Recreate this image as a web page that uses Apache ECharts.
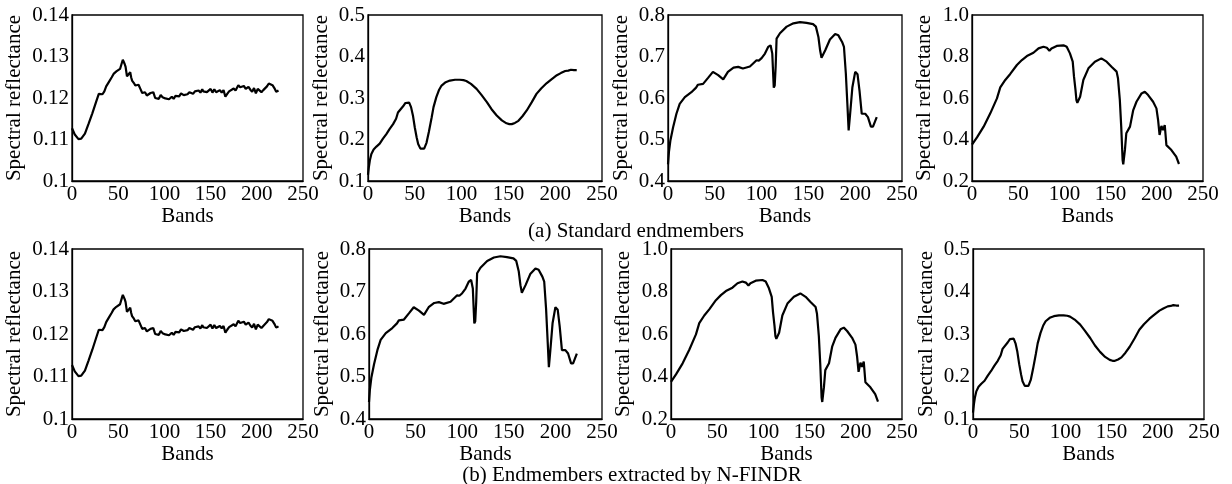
<!DOCTYPE html>
<html><head><meta charset="utf-8">
<script src="https://cdn.jsdelivr.net/npm/echarts@6/dist/echarts.min.js"></script>
<style>html,body{margin:0;padding:0;background:#fff}#c{width:1232px;height:484px}</style>
</head><body><div id="c"></div>
<script>
// ---- data (bands, reflectance) ----
const c1Bands = [0,3,7,10,14,18,22,26,29,31,33,35,37,40,43,45,48,50,52,54,55,56,57,58,59.5,61,63,64,65,67,68.5,70,72,74,76,78,79,81,83,85,87,88,90,92,94,96,98,101,103,105,106,108,110,112,114,116,118,119,121,123,125,127,129,131,133,135,137,139,141,142,144,146,148,150,152,154,156,158,160,162,164,166,168,170,172,175,177,180,182,184,186,188,191,193,195,197,199,201,203,205,207,209,211,213,215,217,219,221,223.5];
const c1Vals  = [0.1127,0.1112,0.1101,0.1102,0.1114,0.1138,0.1163,0.1190,0.1210,0.1213,0.1209,0.1216,0.1228,0.1239,0.1250,0.1258,0.1264,0.1268,0.1270,0.1285,0.1292,0.1290,0.1282,0.1275,0.1252,0.1256,0.1262,0.1250,0.1242,0.1236,0.1230,0.1234,0.1232,0.1222,0.1212,0.1216,0.1214,0.1206,0.1203,0.1212,0.1210,0.1214,0.1200,0.1204,0.1198,0.1207,0.1202,0.1199,0.1202,0.1197,0.1195,0.1203,0.1198,0.1205,0.1209,0.1204,0.1211,0.1213,0.1207,0.1210,0.1209,0.1214,0.1217,0.1210,0.1216,0.1212,0.1218,0.1213,0.1221,0.1216,0.1220,0.1214,0.1218,0.1222,0.1213,0.1221,0.1214,0.1211,0.1219,0.1213,0.1219,0.1203,0.1210,0.1216,0.1220,0.1223,0.1218,0.1231,0.1226,0.1224,0.1229,0.1222,0.1227,0.1220,0.1215,0.1224,0.1211,0.1222,0.1223,0.1214,0.1219,0.1215,0.1228,0.1235,0.1237,0.1231,0.1224,0.1215,0.1218,0.1217];

const c2Bands = [0,1,2,3.6,6,9,12.5,16,19.6,23,26.8,30,32,34,37.5,40,41.8,44,46,48,50,52,53.6,56,58,60,62.5,65,68,70,73,76,78.6,83,87.5,93,98,102,105,110,116,121,127,132,137.5,143,148,151,153.6,157,160.7,165,169.6,175,180,185,191,196,201.8,206,210.7,214,216.8,220,223];
const c2Vals  = [0.115,0.135,0.150,0.165,0.176,0.183,0.190,0.202,0.213,0.225,0.237,0.250,0.265,0.262,0.280,0.288,0.292,0.289,0.278,0.258,0.229,0.205,0.189,0.178,0.174,0.178,0.192,0.218,0.253,0.278,0.302,0.320,0.330,0.338,0.342,0.344,0.344,0.343,0.341,0.334,0.322,0.308,0.290,0.273,0.258,0.246,0.239,0.237,0.237,0.240,0.245,0.256,0.270,0.290,0.310,0.323,0.336,0.345,0.355,0.360,0.365,0.366,0.368,0.367,0.367];

const c3Bands = [0,1,2.5,5.4,9,12.5,18,25,30,32,34,37.5,43,48,53.6,59,64,70,75,80,87.5,94.6,97,100,103.6,107,109.6,111.4,112.5,113,114,115,116,119.6,126.8,134,141,148,155,158,160.7,162.5,164,166,168,173,178.6,182,186,188,190,191.8,193,194.6,197,200,202.5,204.6,207,210.7,213.6,216.8,219,223];
const c3Vals  = [0.440,0.470,0.497,0.529,0.562,0.586,0.602,0.614,0.625,0.632,0.628,0.634,0.649,0.663,0.655,0.645,0.663,0.673,0.675,0.671,0.676,0.691,0.690,0.696,0.707,0.723,0.727,0.707,0.650,0.625,0.630,0.675,0.743,0.756,0.772,0.780,0.783,0.781,0.778,0.772,0.747,0.715,0.697,0.700,0.715,0.741,0.754,0.751,0.735,0.723,0.659,0.578,0.522,0.562,0.626,0.663,0.657,0.618,0.562,0.562,0.554,0.531,0.531,0.554];

const c4Bands = [0,5.4,12.6,19.8,27,30.6,32.4,36,41.4,48.6,54,59.4,66.5,72,77.3,81,83.8,86,91.7,99,102.5,106,109,110.4,112,113,114,117,120.5,126,133,140,145.7,151,156.5,158,160,161.5,163,163.7,165.5,167,171,174.5,178,183.5,187,190.6,196,199.6,201.4,203,205,206.8,208.6,210.4,215.8,221,224];
const c4Vals  = [0.375,0.410,0.462,0.526,0.598,0.651,0.658,0.687,0.716,0.759,0.783,0.802,0.818,0.839,0.847,0.842,0.828,0.839,0.851,0.854,0.847,0.815,0.775,0.703,0.639,0.590,0.577,0.606,0.687,0.743,0.775,0.791,0.775,0.751,0.727,0.695,0.590,0.462,0.301,0.280,0.350,0.430,0.462,0.542,0.582,0.622,0.630,0.614,0.582,0.550,0.494,0.422,0.465,0.446,0.470,0.373,0.349,0.317,0.282];

const xTicks = [0,50,100,150,200,250];
const yRanges = [[0.10,0.14,0.01],[0.1,0.5,0.1],[0.4,0.8,0.1],[0.2,1.0,0.2]];
const yDecimals = [2,1,1,1];
const yFixed = [false,false,false,true];
const captionA = '(a) Standard endmembers';
const captionB = '(b) Endmembers extracted by N-FINDR';

// ---- layout ----
const curves = [[c1Bands,c1Vals],[c2Bands,c2Vals],[c3Bands,c3Vals],[c4Bands,c4Vals]];
const panels = [
  {curve:0, left:72,  top:15,  width:231, height:166, gap:47, xgap:18},
  {curve:1, left:368, top:15,  width:234, height:166, gap:36, xgap:18},
  {curve:2, left:668, top:15,  width:234, height:166, gap:36, xgap:18},
  {curve:3, left:972, top:15,  width:231, height:166, gap:37, xgap:18},
  {curve:0, left:72,  top:249, width:231, height:170, gap:47, xgap:19},
  {curve:2, left:369, top:249, width:233, height:170, gap:36, xgap:19},
  {curve:3, left:671, top:249, width:231, height:170, gap:37, xgap:19},
  {curve:1, left:973, top:249, width:231, height:170, gap:36, xgap:19}
];
const FONT = 'Liberation Serif';
const grid=[], xAxis=[], yAxis=[], series=[];
panels.forEach((p,i)=>{
  const r = yRanges[p.curve];
  grid.push({left:p.left, top:p.top, width:p.width, height:p.height, show:true, borderColor:'#000', borderWidth:1.3, backgroundColor:'#fff'});
  xAxis.push({type:'value', gridIndex:i, min:xTicks[0], max:xTicks[xTicks.length-1], interval:50,
    name:'Bands', nameLocation:'middle', nameGap:p.xgap,
    nameTextStyle:{fontFamily:FONT, fontSize:21, color:'#000'},
    axisLine:{show:true, onZero:false, lineStyle:{color:'#000', width:1.3}},
    axisTick:{show:false}, splitLine:{show:false},
    axisLabel:{fontFamily:FONT, fontSize:21, color:'#000', margin:3}});
  const dec = yDecimals[p.curve], fixed = yFixed[p.curve];
  yAxis.push({type:'value', gridIndex:i, min:r[0], max:r[1], interval:r[2],
    name:'Spectral reflectance', nameLocation:'middle', nameGap:p.gap, nameRotate:90,
    nameTextStyle:{fontFamily:FONT, fontSize:21, color:'#000'},
    axisLine:{show:true, onZero:false, lineStyle:{color:'#000', width:1.3}},
    axisTick:{show:false}, splitLine:{show:false},
    axisLabel:{fontFamily:FONT, fontSize:21, color:'#000', margin:3,
      formatter:v=> fixed ? v.toFixed(dec) : String(parseFloat(v.toFixed(dec)))}});
  const cv = curves[p.curve];
  series.push({type:'line', xAxisIndex:i, yAxisIndex:i, showSymbol:false, symbol:'none', silent:true,
    data: cv[0].map((b,k)=>[b, cv[1][k]]),
    lineStyle:{color:'#000', width:2.2}, animation:false});
});

const chart = echarts.init(document.getElementById('c'), null, {renderer:'canvas'});
chart.setOption({
  animation:false,
  backgroundColor:'#fff',
  title:[
    {text:captionA, left:631, top:216, textAlign:'center', textStyle:{fontFamily:FONT, fontSize:21, fontWeight:'normal', color:'#000'}},
    {text:captionB, left:627, top:460, textAlign:'center', textStyle:{fontFamily:FONT, fontSize:21, fontWeight:'normal', color:'#000'}}
  ],
  grid, xAxis, yAxis, series
});
</script></body></html>
